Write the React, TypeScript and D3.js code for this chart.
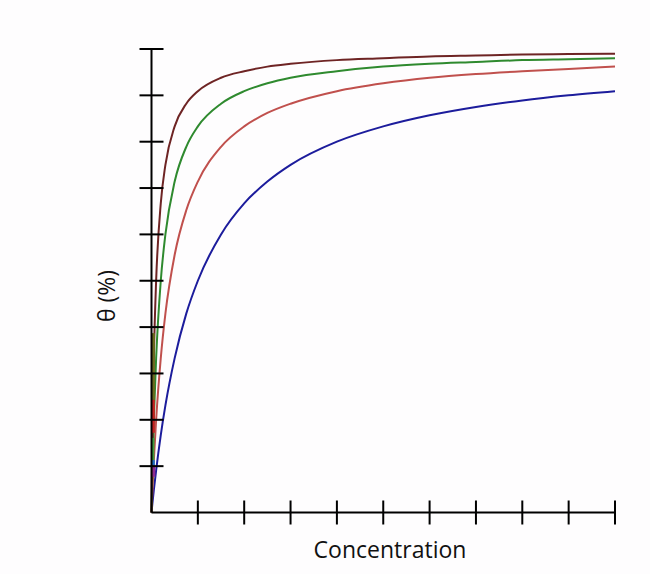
import React from 'react';
import * as d3 from 'd3';

// concentration samples (axis units, one tick = 1)
const concentration = [0, 0.02, 0.05, 0.1, 0.2, 0.3, 0.5, 0.75, 1, 1.5, 2, 2.5, 3, 4, 5, 6, 7, 8, 9, 10];

// θ (%) for each curve
const brownSeries = [0, 16.7, 33.3, 50, 66.7, 75, 83.3, 88.2, 90.9, 93.8, 95.2, 96.2, 96.8, 97.6, 98.0, 98.4, 98.6, 98.8, 98.9, 99.0];
const greenSeries = [0, 9.1, 20, 33.3, 50, 60, 71.4, 78.9, 83.3, 88.2, 90.9, 92.6, 93.8, 95.2, 96.2, 96.8, 97.2, 97.6, 97.8, 98.0];
const redSeries = [0, 4.8, 11.1, 20, 33.3, 42.9, 55.6, 65.2, 71.4, 78.9, 83.3, 86.2, 88.2, 90.9, 92.6, 93.8, 94.6, 95.2, 95.7, 96.2];
const blueSeries = [0, 2.0, 4.8, 9.1, 16.7, 23.1, 33.3, 42.9, 50, 60, 66.7, 71.4, 75, 80, 83.3, 85.7, 87.5, 88.9, 90, 90.9];

// short steep pieces crowded against the θ axis near zero
const axisPieces = [
  { color: '#6b6a1e', c: 0.04, from: 24.3, to: 38.7 },
  { color: '#c42020', c: 0.04, from: 17.2, to: 24.3 },
  { color: '#3d9a3d', c: 0.03, from: 11.3, to: 16.1 },
  { color: '#1f6fc0', c: 0.04, from: 10.2, to: 11.3 },
  { color: '#8e2a8e', c: 0.05, from: 7.7, to: 10.2 },
];

const xTicks = [1, 2, 3, 4, 5, 6, 7, 8, 9, 10];
const yTicks = [10, 20, 30, 40, 50, 60, 70, 80, 90, 100];

const curves = [
  { name: 'blue', color: '#1c1c9c', values: blueSeries },
  { name: 'red', color: '#c0504d', values: redSeries },
  { name: 'green', color: '#2f8a2f', values: greenSeries },
  { name: 'brown', color: '#6e2424', values: brownSeries },
];

export default function App() {
  const width = 650;
  const height = 574;
  const x = d3.scaleLinear().domain([0, 10]).range([151.5, 615]);
  const y = d3.scaleLinear().domain([0, 100]).range([512.5, 49]);

  const line = d3.line<number>()
    .x((_, i) => x(concentration[i]))
    .y((v) => y(v))
    .curve(d3.curveMonotoneX);

  return (
    <div style={{ position: 'absolute', left: 0, top: 0 }}>
      <svg width={width} height={height} style={{ display: 'block', background: '#fefdfe' }}>
        {curves.map((s) => (
          <path key={s.name} d={line(s.values) || ''} fill="none" stroke={s.color} strokeWidth={2} />
        ))}
        {axisPieces.map((p, i) => (
          <line key={i} x1={x(p.c)} x2={x(p.c)} y1={y(p.from)} y2={y(p.to)} stroke={p.color} strokeWidth={3} />
        ))}

        {/* axes */}
        <line x1={x(0)} x2={x(0)} y1={y(100)} y2={y(0)} stroke="#000" strokeWidth={2} />
        <line x1={x(0)} x2={x(10)} y1={y(0)} y2={y(0)} stroke="#000" strokeWidth={2} />
        {yTicks.map((t) => (
          <line key={t} x1={x(0) - 12} x2={x(0) + 12} y1={y(t)} y2={y(t)} stroke="#000" strokeWidth={2} />
        ))}
        {xTicks.map((t) => (
          <line key={t} x1={x(t)} x2={x(t)} y1={y(0) - 12} y2={y(0) + 12} stroke="#000" strokeWidth={2} />
        ))}

        <text
          x={390}
          y={558}
          textAnchor="middle"
          fontFamily="'Open Sans', sans-serif"
          fontSize={23}
          fill="#111"
        >
          Concentration
        </text>
        <text
          transform="translate(115,296) rotate(-90)"
          textAnchor="middle"
          fontFamily="'Open Sans', sans-serif"
          fontSize={23}
          fill="#111"
        >
          θ (%)
        </text>
      </svg>
    </div>
  );
}
